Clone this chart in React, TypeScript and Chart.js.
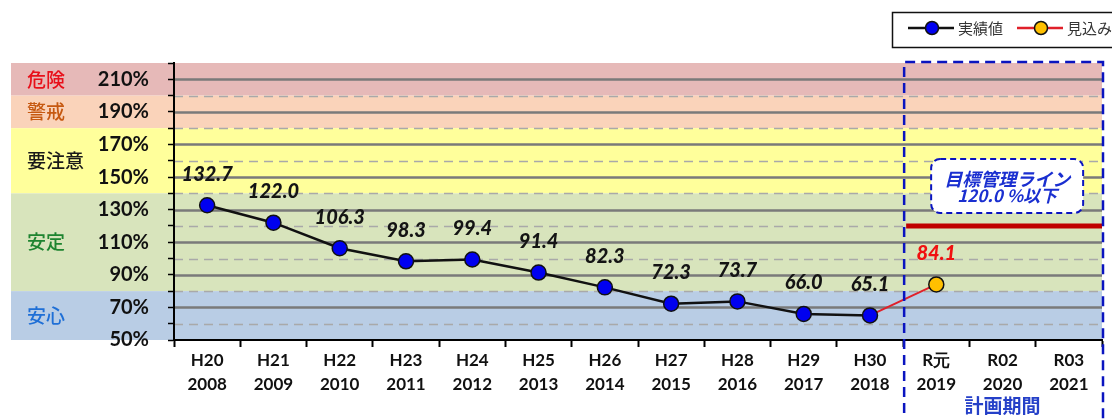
import React, { useEffect, useRef } from 'react';
import { Chart, registerables } from 'chart.js';

Chart.register(...registerables);

// ---- data ----
const eraLabels = ['H20', 'H21', 'H22', 'H23', 'H24', 'H25', 'H26', 'H27', 'H28', 'H29', 'H30', 'R元', 'R02', 'R03'];
const yearLabels = ['2008', '2009', '2010', '2011', '2012', '2013', '2014', '2015', '2016', '2017', '2018', '2019', '2020', '2021'];
const actualValues = [132.7, 122.0, 106.3, 98.3, 99.4, 91.4, 82.3, 72.3, 73.7, 66.0, 65.1, null, null, null];
const forecastValues = [null, null, null, null, null, null, null, null, null, null, 65.1, 84.1, null, null];
const forecastLabelIndex = 11;
const targetValue = 120;
const planStartIndex = 11;
const yMin = 50;
const yMax = 220;
const yStep = 10;
const yLabelStep = 20;
const bandNames = ['危険', '警戒', '要注意', '安定', '安心'];
const bandUpper = [220, 200, 180, 140, 80];
const bandLower = [200, 180, 140, 80, 50];
const legendNames = ['実績値', '見込み'];
const targetTextLines = ['目標管理ライン', '120.0 %以下'];
const planText = '計画期間';

// ---- styles ----
const bandFill = ['#E6B9B8', '#FAD3BA', '#FFFF9B', '#D8E4BC', '#B9CDE5'];
const bandTextColor = ['#E8101A', '#C65911', '#1A1A1A', '#1E8430', '#1F6FD6'];
const CJK = '"Noto Sans CJK JP", "Noto Sans", sans-serif';
const NUM = 'Lato, "Open Sans", sans-serif';
const BLUE_BOX = '#0A14C0';

const decor = {
  id: 'decor',
  beforeDraw(chart: any) {
    const { ctx, chartArea, scales } = chart;
    const y = scales.y;
    ctx.save();
    ctx.fillStyle = '#ffffff';
    ctx.fillRect(0, 0, chart.width, chart.height);
    // bands
    for (let i = 0; i < bandNames.length; i++) {
      const t = y.getPixelForValue(bandUpper[i]);
      const b = y.getPixelForValue(bandLower[i]);
      ctx.fillStyle = bandFill[i];
      ctx.fillRect(11, t, chartArea.right - 11, b - t);
    }
    // grid lines
    for (let v = yMin + yStep; v < yMax; v += yStep) {
      const py = Math.round(y.getPixelForValue(v)) + 0.5;
      ctx.beginPath();
      if ((v - yMin) % yLabelStep === 0) {
        ctx.setLineDash([]);
        ctx.strokeStyle = '#7A7A7A';
        ctx.lineWidth = 2.5;
      } else {
        ctx.setLineDash([9, 6]);
        ctx.strokeStyle = '#A9A9A9';
        ctx.lineWidth = 1.5;
      }
      ctx.moveTo(chartArea.left, py);
      ctx.lineTo(chartArea.right, py);
      ctx.stroke();
    }
    ctx.setLineDash([]);
    // band labels
    ctx.font = `500 19px ${CJK}`;
    ctx.textAlign = 'left';
    ctx.textBaseline = 'middle';
    for (let i = 0; i < bandNames.length; i++) {
      const cy = y.getPixelForValue((bandUpper[i] + bandLower[i]) / 2);
      ctx.fillStyle = bandTextColor[i];
      ctx.fillText(bandNames[i], 27, cy);
    }
    ctx.restore();
  },
  beforeDatasetsDraw(chart: any) {
    const { ctx, chartArea, scales } = chart;
    const x = scales.x;
    const y = scales.y;
    ctx.save();
    const boundary = (x.getPixelForValue(planStartIndex - 1) + x.getPixelForValue(planStartIndex)) / 2;
    // target line
    const ty = y.getPixelForValue(targetValue);
    ctx.strokeStyle = '#C00000';
    ctx.lineWidth = 5;
    ctx.beginPath();
    ctx.moveTo(boundary + 3, ty);
    ctx.lineTo(chartArea.right, ty);
    ctx.stroke();
    ctx.restore();
  },
  afterDatasetsDraw(chart: any) {
    const { ctx, chartArea, scales } = chart;
    const x = scales.x;
    ctx.save();
    const boundary = (x.getPixelForValue(planStartIndex - 1) + x.getPixelForValue(planStartIndex)) / 2;

    // plan period dashed box
    ctx.strokeStyle = BLUE_BOX;
    ctx.lineWidth = 2.5;
    ctx.setLineDash([10, 6]);
    ctx.beginPath();
    ctx.moveTo(boundary + 1, chart.height + 10);
    ctx.lineTo(boundary + 1, chartArea.top - 1);
    ctx.lineTo(chartArea.right + 1, chartArea.top - 1);
    ctx.lineTo(chartArea.right + 1, chart.height + 10);
    ctx.stroke();

    // target text box
    const bx = boundary + 28;
    const bw = 152;
    const by = chartArea.top + 96;
    const bh = 54;
    ctx.setLineDash([6, 4]);
    ctx.lineWidth = 2;
    ctx.fillStyle = '#ffffff';
    ctx.beginPath();
    (ctx as any).roundRect(bx, by, bw, bh, 9);
    ctx.fill();
    ctx.stroke();
    ctx.setLineDash([]);
    ctx.fillStyle = '#1A2FD0';
    ctx.textAlign = 'center';
    ctx.textBaseline = 'middle';
    ctx.font = `italic bold 18px ${CJK}`;
    ctx.fillText(targetTextLines[0], bx + bw / 2, by + 20);
    ctx.font = `italic bold 17px ${CJK}`;
    ctx.fillText(targetTextLines[1], bx + bw / 2, by + 37);

    // data labels
    ctx.font = `italic 900 20px ${NUM}`;
    const m0 = chart.getDatasetMeta(0);
    m0.data.forEach((pt: any, i: number) => {
      const v = actualValues[i];
      if (v == null) return;
      ctx.fillStyle = '#141414';
      ctx.fillText(v.toFixed(1), pt.x, pt.y - 31);
    });
    const m1 = chart.getDatasetMeta(1);
    const fp = m1.data[forecastLabelIndex];
    const fv = forecastValues[forecastLabelIndex];
    if (fp && fv != null) {
      ctx.fillStyle = '#F01010';
      ctx.fillText(fv.toFixed(1), fp.x, fp.y - 31);
    }

    // plan label
    ctx.fillStyle = '#2540C8';
    ctx.font = `bold 19px ${CJK}`;
    ctx.fillText(planText, (x.getPixelForValue(planStartIndex + 1)), chart.height - 13);

    // legend
    const lx = 892;
    const ly = 12;
    const lw = 222;
    const lh = 35;
    ctx.fillStyle = '#ffffff';
    ctx.fillRect(lx, ly, lw, lh);
    ctx.strokeStyle = '#111';
    ctx.lineWidth = 1.5;
    ctx.strokeRect(lx + 0.5, ly + 0.5, lw, lh);
    const cy = ly + 16;
    const drawItem = (x0: number, line: string, fill: string, text: string) => {
      ctx.strokeStyle = line;
      ctx.lineWidth = 2.5;
      ctx.beginPath();
      ctx.moveTo(x0, cy);
      ctx.lineTo(x0 + 46, cy);
      ctx.stroke();
      ctx.beginPath();
      ctx.arc(x0 + 24, cy, 6.5, 0, Math.PI * 2);
      ctx.fillStyle = fill;
      ctx.fill();
      ctx.strokeStyle = '#111';
      ctx.lineWidth = 1.5;
      ctx.stroke();
      ctx.fillStyle = '#333';
      ctx.font = `15px ${CJK}`;
      ctx.textAlign = 'left';
      ctx.fillText(text, x0 + 50, cy);
    };
    drawItem(908, '#111111', '#0000F0', legendNames[0]);
    drawItem(1017, '#E0202A', '#FFC000', legendNames[1]);
    ctx.restore();
  },
};

export default function App() {
  const ref = useRef<HTMLCanvasElement | null>(null);
  useEffect(() => {
    if (!ref.current) return;
    const labels = eraLabels.map((e, i) => [e, yearLabels[i]]);
    const chart = new Chart(ref.current, {
      type: 'line',
      data: {
        labels,
        datasets: [
          {
            label: legendNames[0],
            data: actualValues,
            borderColor: '#111111',
            borderWidth: 2.5,
            pointRadius: 7.5,
            pointBackgroundColor: '#0000F0',
            pointBorderColor: '#111111',
            pointBorderWidth: 1.5,
            spanGaps: false,
            tension: 0,
          },
          {
            label: legendNames[1],
            data: forecastValues,
            borderColor: '#E0202A',
            borderWidth: 2,
            pointRadius: (c: any) => (c.dataIndex === forecastLabelIndex ? 7.5 : 0),
            pointBackgroundColor: '#FFC000',
            pointBorderColor: '#111111',
            pointBorderWidth: 1.5,
            tension: 0,
            order: 1,
          },
        ],
      } as any,
      options: {
        responsive: false,
        animation: false,
        events: [],
        layout: { padding: { top: 63, right: 10, bottom: 0, left: 0 } },
        plugins: { legend: { display: false }, tooltip: { enabled: false } },
        scales: {
          x: {
            type: 'category',
            offset: true,
            grid: {
              offset: true,
              drawOnChartArea: false,
              drawTicks: true,
              tickLength: 7,
              tickColor: '#000',
              tickWidth: 2,
            },
            border: { color: '#000', width: 2 },
            ticks: {
              autoSkip: false,
              maxRotation: 0,
              minRotation: 0,
              padding: 1,
              color: '#111',
              font: { family: NUM, weight: 'bold', size: 17, lineHeight: 1.42 },
            },
            afterFit: (s: any) => {
              s.height = 79;
            },
          },
          y: {
            type: 'linear',
            min: yMin,
            max: yMax,
            grid: {
              drawOnChartArea: false,
              drawTicks: true,
              tickLength: 6,
              tickColor: '#000',
              tickWidth: 1.5,
            },
            border: { color: '#000', width: 2 },
            ticks: {
              stepSize: yStep,
              autoSkip: false,
              padding: 19,
              color: '#111',
              font: { family: NUM, weight: 'bold', size: 20 },
              callback: (v: any) => ((v - yMin) % yLabelStep === 0 && v < yMax ? `${v}%` : ''),
            },
            afterFit: (s: any) => {
              s.width = 174;
            },
          },
        },
      } as any,
      plugins: [decor],
    });
    return () => chart.destroy();
  }, []);
  return (
    <div style={{ position: 'absolute', left: 0, top: 0, width: 1112, height: 419 }}>
      <canvas ref={ref} width={1112} height={419} style={{ display: 'block' }} />
    </div>
  );
}
